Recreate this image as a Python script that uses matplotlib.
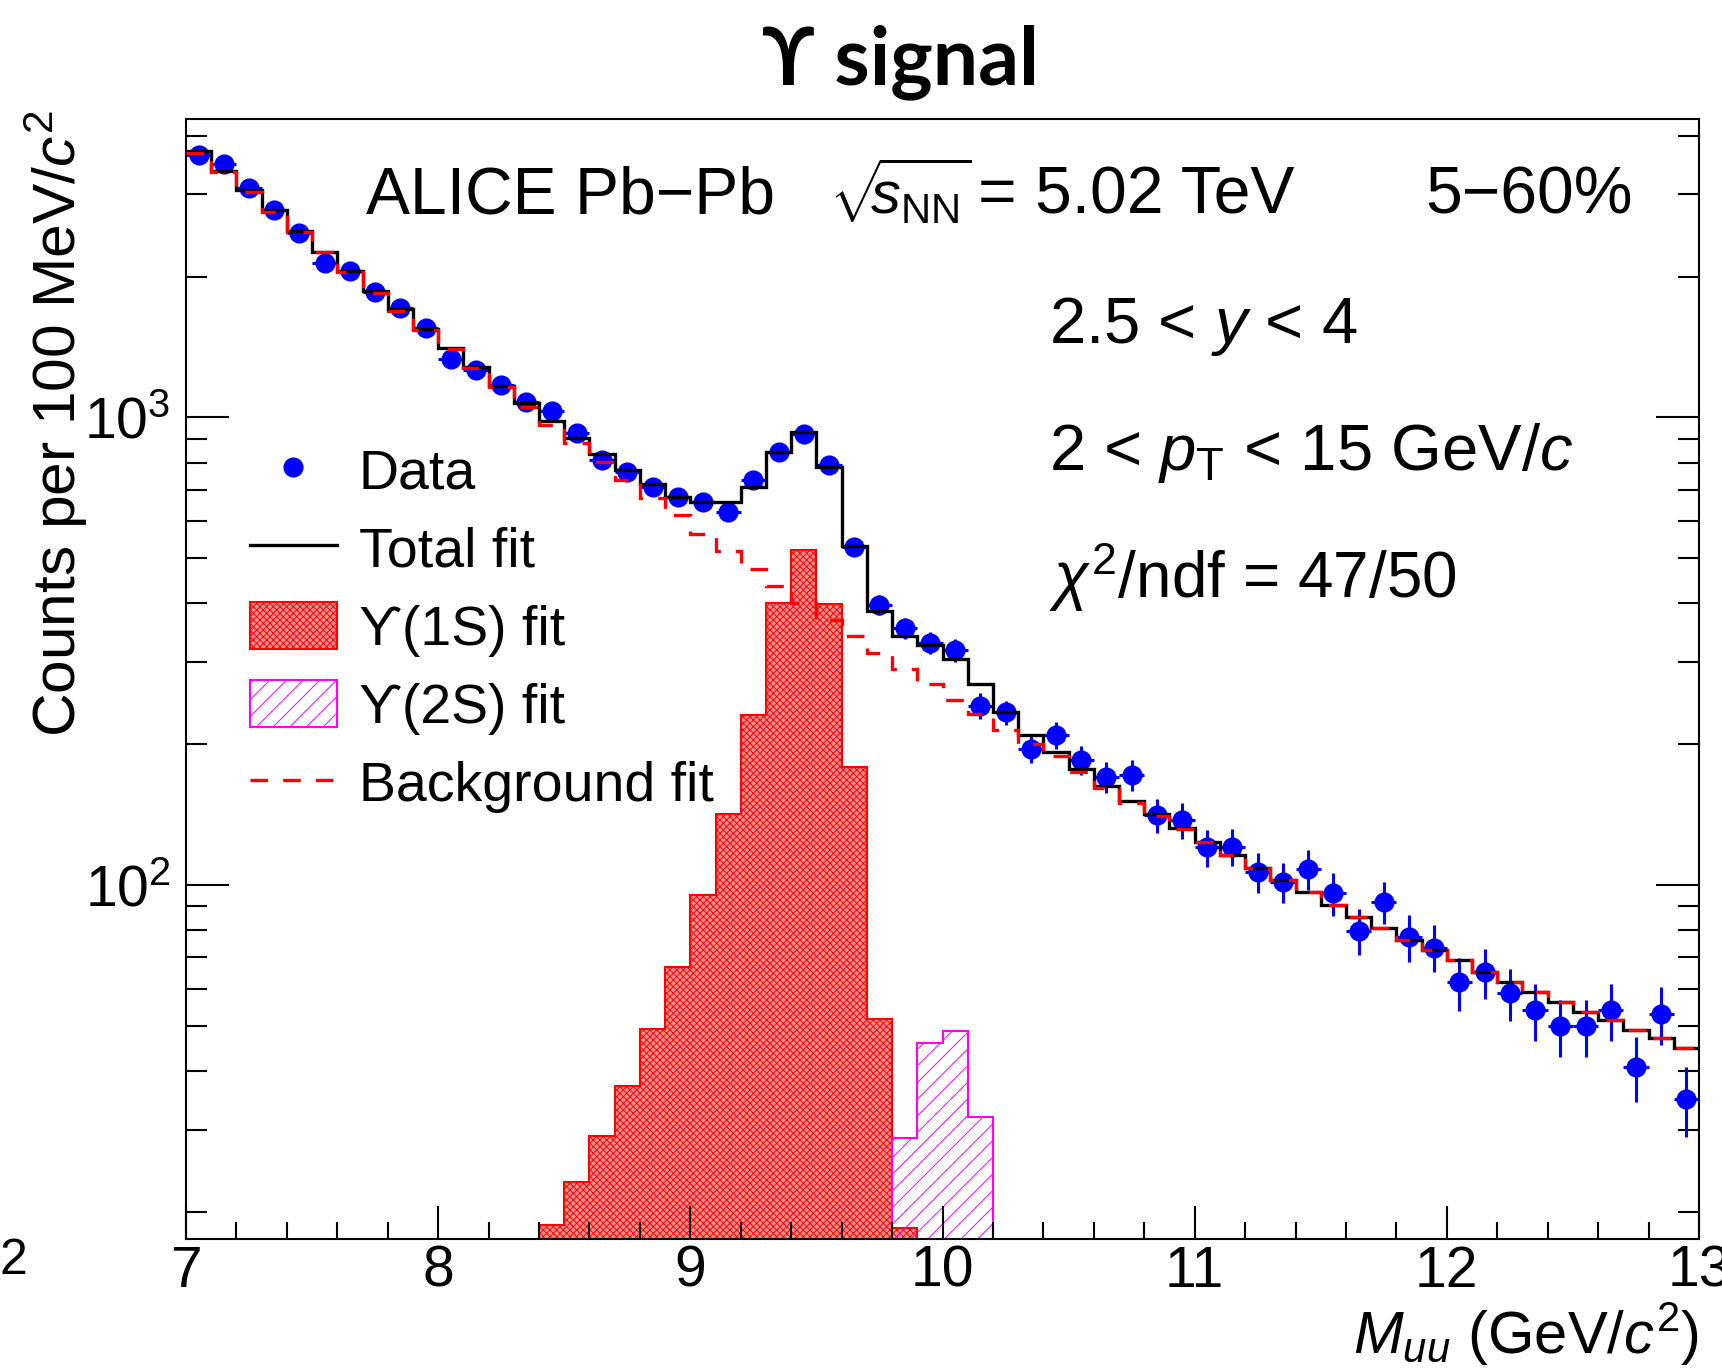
import numpy as np
import matplotlib
matplotlib.use('Agg')
import matplotlib.pyplot as plt
from matplotlib.lines import Line2D
from matplotlib.patches import Patch
from matplotlib.ticker import LogLocator, NullFormatter, MultipleLocator

# -----------------------
# DATA (100 MeV bins from 7 to 13 GeV)
# -----------------------
bin_edges = np.linspace(7.0, 13.0, 61)

data_counts = [3640, 3480, 3100, 2775, 2480, 2135, 2055, 1855, 1710, 1555,
               1330, 1262, 1172, 1080, 1032, 924, 810, 763, 711, 677,
               660, 628, 734, 842, 920, 791, 529, 397, 354, 330,
               318, 242, 234, 195, 209, 185, 170, 172, 141, 137.5,
               120.4, 120.8, 106.8, 101.4, 108.2, 96.0, 79.7, 92.2, 77.3, 73.5,
               61.9, 65.0, 58.7, 54.0, 49.9, 49.9, 54.0, 40.9, 52.9, 34.9]
data_err = [60, 59, 56, 53, 50, 46, 45, 43, 41, 39,
            36, 36, 34, 33, 32, 30, 28, 28, 27, 26,
            26, 25, 27, 29, 30, 28, 23, 20, 19, 18,
            18, 16, 14, 13, 14, 13, 13, 13, 12, 12,
            11, 11, 10.5, 10, 10.5, 10, 9, 9.5, 9, 8.5,
            8, 8, 7.5, 7.5, 7, 7, 7.5, 6.5, 7.5, 6]

total_fit = [3716, 3368, 3062, 2775, 2506, 2261, 2058, 1865, 1702, 1547,
             1405, 1283, 1169, 1071, 982, 904, 834, 772, 720, 676,
             660, 660, 708, 844, 932, 783, 531, 385, 340, 326,
             305, 269, 234, 209.8, 192.2, 176.9, 162.8, 151.0, 141.6, 132.2,
             123.4, 115.9, 108.9, 102.5, 96.5, 90.6, 85.5, 81.0, 76.2, 72.6,
             69.1, 65.3, 61.9, 59.0, 56.1, 53.6, 51.4, 49.0, 47.0, 44.9]

bkg_fit = [3680, 3341, 3037, 2752, 2487, 2254, 2048, 1847, 1688, 1537,
           1398, 1273, 1159, 1054, 963, 880, 804, 734, 671, 618,
           562, 518, 474, 436, 401, 369, 341, 314, 290, 269,
           249, 232, 214.5, 200, 189, 174.5, 161, 149.5, 140.5, 131.5,
           123.4, 115.9, 108.9, 102.5, 96.5, 90.6, 85.5, 81.0, 76.2, 72.6,
           69.1, 65.3, 61.9, 59.0, 56.1, 53.6, 51.4, 49.0, 47.0, 44.9]

# Upsilon(1S): bins 8.4 - 9.9, Upsilon(2S): bins 9.8 - 10.2
ups1s_fit = [18.75, 23.2, 29.1, 37.2, 49.2, 66.9, 95.2, 142.2, 231.5, 401.2,
             521.6, 399.8, 179.1, 51.6, 18.45]
ups2s_fit = [28.8, 46.0, 48.7, 31.9]
ups1s_edges = bin_edges[14:30]
ups2s_edges = bin_edges[28:33]

bin_centers = 0.5 * (bin_edges[:-1] + bin_edges[1:])

# -----------------------
# STYLE
# -----------------------
W, H = 1722, 1369
plt.rcParams['font.family'] = ['Liberation Sans', 'DejaVu Sans']
plt.rcParams['mathtext.fontset'] = 'custom'
plt.rcParams['mathtext.rm'] = 'Liberation Sans'
plt.rcParams['mathtext.it'] = 'Liberation Sans:italic'
plt.rcParams['mathtext.bf'] = 'Liberation Sans:bold'
plt.rcParams['mathtext.sf'] = 'Liberation Sans'
plt.rcParams['hatch.linewidth'] = 0.7
plt.rcParams['axes.linewidth'] = 1.5

fig = plt.figure(figsize=(W / 100, H / 100), dpi=100)
ax = fig.add_axes([186 / W, 1 - 1239 / H, (1699 - 186) / W, (1239 - 119) / H])

# -----------------------
# PLOT
# -----------------------
s1_style = dict(facecolor='#ff9090', edgecolor='red', hatch='xxxxx', lw=1.5)
s2_style = dict(facecolor='none', edgecolor='magenta', hatch='//', lw=1.5)
bkg_dash = (0, (5.3, 4.5))

ax.stairs(ups1s_fit, ups1s_edges, baseline=1, fill=True, zorder=1, **s1_style)
ax.stairs(ups2s_fit, ups2s_edges, baseline=1, fill=True, zorder=1.1, **s2_style)

ax.errorbar(bin_centers, data_counts, yerr=data_err, xerr=0.05, fmt='o',
            color='blue', ms=13.5, elinewidth=2.2, capsize=0, zorder=2)

ax.stairs(total_fit, bin_edges, baseline=None, color='black', lw=2.4, zorder=3)
ax.stairs(bkg_fit, bin_edges, baseline=None, color='red', lw=2.4,
          linestyle=bkg_dash, zorder=4)

ax.set_yscale('log')
ax.set_xlim(7, 13)
ax.set_ylim(17.5, 4345)

ax.xaxis.set_major_locator(MultipleLocator(1))
ax.xaxis.set_minor_locator(MultipleLocator(0.2))
ax.yaxis.set_major_locator(LogLocator(base=10))
ax.yaxis.set_minor_locator(LogLocator(base=10, subs=np.arange(2, 10)))
ax.yaxis.set_minor_formatter(NullFormatter())

ax.tick_params(which='both', direction='in', top=False, right=True,
               width=1.5, labelsize=41)
ax.tick_params(axis='x', which='major', length=24, pad=4)
ax.tick_params(axis='x', which='minor', length=12)
ax.tick_params(axis='y', which='major', length=31, pad=11)
ax.tick_params(axis='y', which='minor', length=15)

ax.set_xlabel(r'$M_{uu}$ (GeV/$c^2$)', fontsize=43, loc='right', va='baseline')
ax.xaxis.set_label_coords(1.0, -(1354 - 1239) / 1120)
ax.set_ylabel(r'Counts per 100 MeV/$c^2$', fontsize=43.5, loc='top', va='baseline')
ax.yaxis.set_label_coords((76 - 186) / 1513, 1 + 9 / 1120)

# -----------------------
# LEGEND
# -----------------------
handles = [
    Line2D([], [], marker='o', ls='none', color='blue', ms=13.5),
    Line2D([], [], color='black', lw=2.4),
    Patch(**s1_style),
    Patch(**s2_style),
    Line2D([], [], color='red', lw=2.4, linestyle=bkg_dash),
]
labels = ['Data', 'Total fit', 'ϒ(1S) fit', 'ϒ(2S) fit', 'Background fit']
leg = ax.legend(handles, labels, loc='upper left', frameon=False, fontsize=40,
                bbox_to_anchor=((250 - 186) / 1513, (1239 - 446) / 1120),
                borderaxespad=0, borderpad=0, handlelength=1.56,
                handleheight=0.93, handletextpad=0.4, labelspacing=0.42,
                numpoints=1)
for t in leg.get_texts():
    t.set_family(['Liberation Sans', 'DejaVu Serif', 'DejaVu Sans'])

# -----------------------
# TEXT
# -----------------------
def fpos(x, y):
    return x / W, 1 - y / H

fig.text(*fpos(900, 84), 'ϒ signal', ha='center', va='baseline', fontsize=58,
         fontweight='bold', family=['Lato', 'DejaVu Sans'])
fig.text(*fpos(366, 214), 'ALICE Pb\u2212Pb', fontsize=47.5, va='baseline')
fig.text(*fpos(829, 214), r'$\sqrt{\!\!s_{\mathrm{NN}}}$', fontsize=43,
         va='baseline')
fig.text(*fpos(978, 214), '= 5.02 TeV', fontsize=47.5, va='baseline')
fig.text(*fpos(1633, 214), '5\u221260%', fontsize=47.5, va='baseline', ha='right')
fig.text(*fpos(1049, 343), r'2.5 < $y$ < 4', fontsize=47, va='baseline')
fig.text(*fpos(1049, 470), r'2 < $p_{\mathrm{T}}$ < 15 GeV/$c$', fontsize=47,
         va='baseline')
fig.text(*fpos(1049, 598), r'$\chi^{2}$/ndf = 47/50', fontsize=46, va='baseline')
fig.text(*fpos(0, 1274), '2', fontsize=36, va='baseline')

fig.savefig('out.png', dpi=100)
